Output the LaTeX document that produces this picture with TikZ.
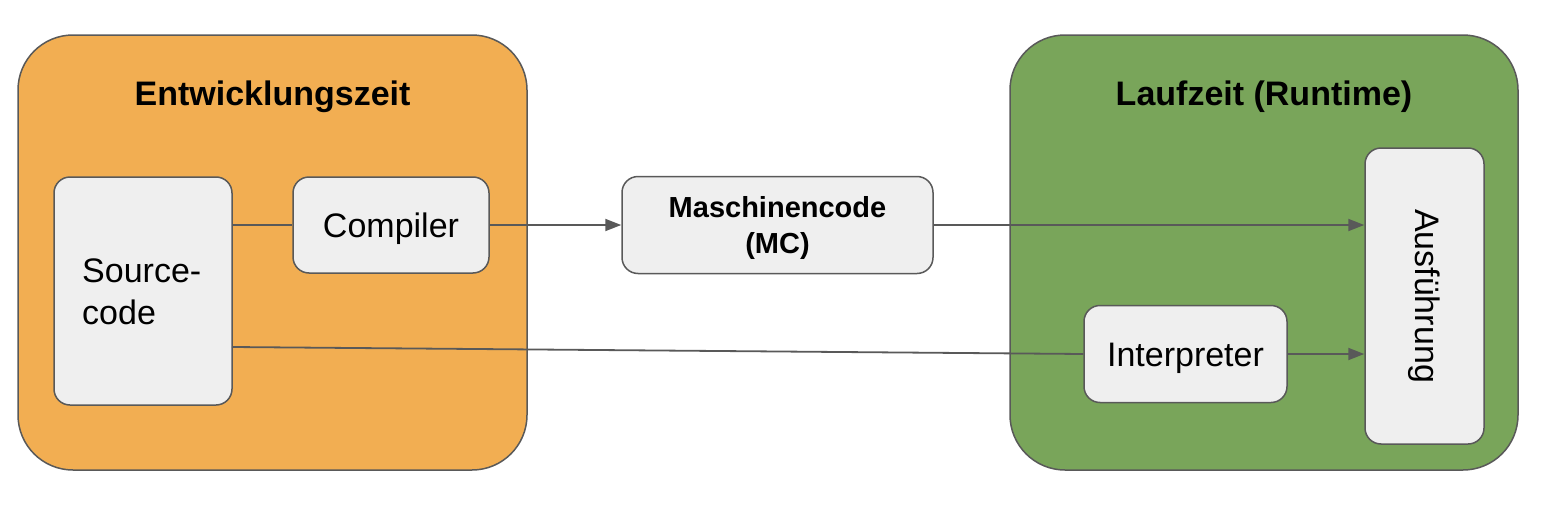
\documentclass[tikz,border=0pt]{standalone}
\usepackage{fontspec}
\setmainfont{Liberation Sans}
\usetikzlibrary{arrows.meta}
\definecolor{orangebg}{HTML}{F2AE52}
\definecolor{greenbg}{HTML}{79A55A}
\definecolor{boxfill}{HTML}{EFEFEF}
\definecolor{linegray}{HTML}{595959}
\begin{document}
\begin{tikzpicture}[x=1pt,y=-1pt,
  region/.style={draw=linegray,line width=1.5pt,rounded corners=55pt},
  item/.style={draw=linegray,fill=boxfill,line width=1.5pt,rounded corners=16pt},
  lbl/.style={font=\fontsize{34}{41}\selectfont},
  onel/.style={lbl,text height=31pt,text depth=7pt},
  conn/.style={draw=linegray,line width=1.8pt},
  arr/.style={conn,-{Triangle[length=16pt,width=12pt]}}]
\useasboundingbox (0,0) rectangle (1548,506);
% regions
\draw[region,fill=orangebg] (18,35) rectangle (527,470);
\draw[region,fill=greenbg] (1010,35) rectangle (1518,470);
\node[font=\bfseries\fontsize{34}{41}\selectfont,anchor=base] (t1) at (272.5,105) {Entwicklungszeit};
\node[font=\bfseries\fontsize{34}{41}\selectfont,anchor=base] (t2) at (1264,105) {Laufzeit (Runtime)};
% items
\draw[item] (54,177) rectangle (232,405);
\node[font=\fontsize{34}{42}\selectfont,align=left,anchor=west,inner sep=0pt] (src) at (82,292) {Source-\\code};
\coordinate (srcA) at (232,225);
\coordinate (srcB) at (232,347);
\node[item,onel,minimum width=196pt,minimum height=96pt,inner sep=0pt] (comp) at (391,225) {Compiler};
\node[item,minimum width=311pt,minimum height=97pt,inner sep=0pt] (mc) at (777.5,225) {};
\node[align=center,font=\bfseries\fontsize{29}{36}\selectfont,inner sep=0pt] (mctxt) at (777.5,228) {Maschinencode\\(MC)};
\node[item,onel,minimum width=203pt,minimum height=97pt,inner sep=0pt] (interp) at (1185.5,354) {Interpreter};
\node[item,minimum width=119pt,minimum height=296pt,inner sep=0pt] (aus) at (1424.5,296) {};
\node[lbl,rotate=-90] (austxt) at (aus.center) {Ausführung};
% connectors
\draw[conn] (srcA) -- (comp.west);
\draw[arr] (comp.east) -- (mc.west);
\draw[arr] (mc.east) -- (aus.west |- mc.east);
\draw[conn] (srcB) -- (interp.west);
\draw[arr] (interp.east) -- (aus.west |- interp.east);
\end{tikzpicture}
\end{document}
